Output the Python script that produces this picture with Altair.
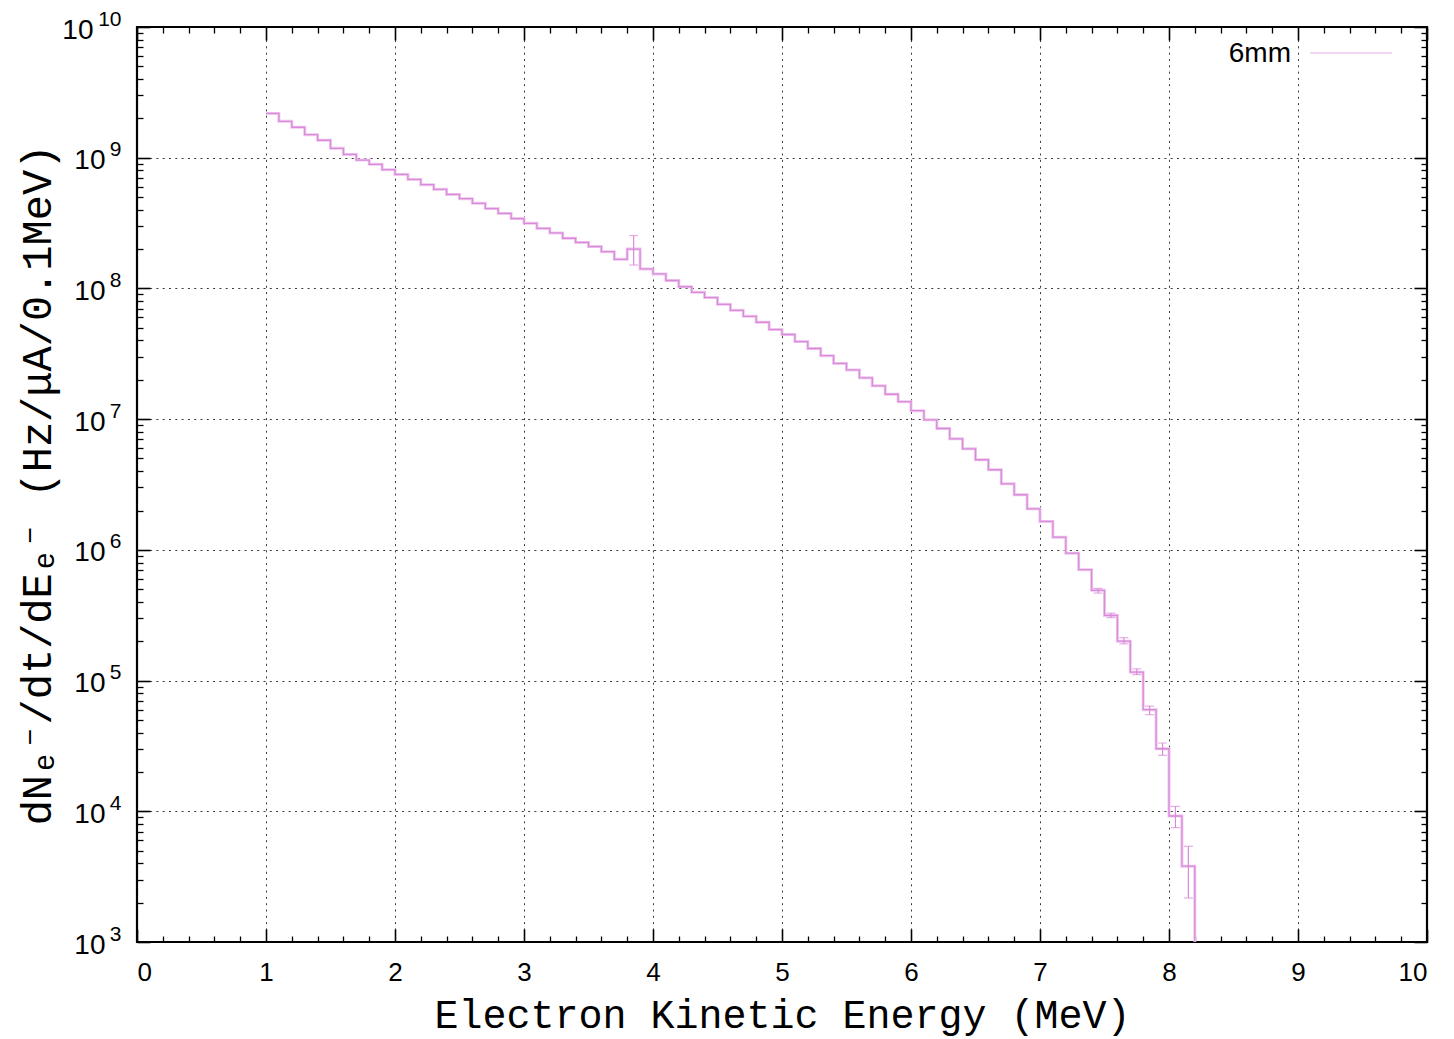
import altair as alt
import pandas as pd

# Electron spectrum, 0.1 MeV bins starting at 1.0 MeV (lower bin edges)
bin_lo = [round(1.0 + 0.1 * i, 1) for i in range(72)]
bin_hi_last = 8.2

# dN/dt/dE per bin (Hz/uA/0.1MeV)
rate = [
    2.18e9, 1.90e9, 1.71e9, 1.50e9, 1.36e9, 1.18e9, 1.06e9, 9.6e8, 8.9e8, 8.1e8,
    7.45e8, 6.82e8, 6.22e8, 5.73e8, 5.24e8, 4.86e8, 4.48e8, 4.08e8, 3.75e8, 3.42e8,
    3.15e8, 2.88e8, 2.66e8, 2.42e8, 2.25e8, 2.09e8, 1.91e8, 1.67e8, 2.00e8, 1.41e8,
    1.29e8, 1.15e8, 1.03e8, 9.34e7, 8.51e7, 7.56e7, 6.80e7, 6.12e7, 5.51e7, 4.84e7,
    4.44e7, 3.92e7, 3.47e7, 3.06e7, 2.67e7, 2.38e7, 2.07e7, 1.80e7, 1.55e7, 1.36e7,
    1.16e7, 9.88e6, 8.48e6, 7.07e6, 5.93e6, 4.89e6, 4.10e6, 3.20e6, 2.64e6, 2.06e6,
    1.65e6, 1.25e6, 9.44e5, 7.05e5, 4.90e5, 3.15e5, 2.00e5, 1.16e5, 5.99e4, 3.01e4,
    9.2e3, 3.8e3,
]

# Statistical error bars (bin centres, lower and upper limits)
err_center = [3.85, 7.45, 7.55, 7.65, 7.75, 7.85, 7.95, 8.05, 8.15]
err_lo = [1.51e8, 4.67e5, 3.03e5, 1.91e5, 1.11e5, 5.48e4, 2.68e4, 7.5e3, 2.17e3]
err_hi = [2.54e8, 5.07e5, 3.28e5, 2.13e5, 1.23e5, 6.38e4, 3.33e4, 1.09e4, 5.4e3]

series_name = "6mm"

# Axis tick positions
x_major = [0, 1, 2, 3, 4, 5, 6, 7, 8, 9, 10]
x_grid = [1, 2, 3, 4, 5, 6, 7, 8, 9]
x_minor = [round(0.2 * i, 1) for i in range(51) if i % 5 != 0]
y_major = [10.0 ** k for k in range(3, 11)]
y_minor = [m * 10.0 ** k for k in range(3, 10) for m in range(2, 10)]

Y_MIN, Y_MAX = 1e3, 1e10

DARK = "#d98ad9"
LIGHT = "#efc8ef"
SANS = "Liberation Sans, Arial, Helvetica, sans-serif"
MONO = "Liberation Mono, DejaVu Sans Mono, Courier New, monospace"

MAJOR, MINOR = 13, 6

hist = pd.DataFrame({
    "E": bin_lo + [bin_hi_last],
    "rate": rate + [Y_MIN],
})
errs = pd.DataFrame({"E": err_center, "lo": err_lo, "hi": err_hi})
key = pd.DataFrame({"series": [series_name]})

xs = alt.Scale(domain=[0, 10], nice=False, zero=False)
ys = alt.Scale(type="log", domain=[Y_MIN, Y_MAX], nice=False)

EXP = "round(log(datum.value)/LN10)"
TWO_DIGIT = "datum.value > 5e9"


def tick_axis(orient, values, size, width=1.3, **kw):
    """Inward-pointing ticks: axis shifted into the plot by its tick length."""
    opts = dict(orient=orient, values=values, tickSize=size, offset=-size,
                domain=False, grid=False, labels=False, title=None,
                tickColor="black", tickWidth=width)
    opts.update(kw)
    return alt.Axis(**opts)


GRID = dict(grid=True, gridColor="#3a3a3a", gridDash=[2, 4.3], gridWidth=1)

# Light underlay histogram; carries the grid and the exponent part of y labels
under = alt.Chart(hist).mark_line(
    interpolate="step-after", strokeWidth=3, color=LIGHT, clip=True
).encode(
    x=alt.X("E:Q", scale=xs, axis=alt.Axis(
        orient="bottom", values=x_grid, ticks=False, labels=False,
        domain=False, title=None, **GRID)),
    y=alt.Y("rate:Q", scale=ys, axis=alt.Axis(
        orient="left", values=y_major, ticks=False, tickSize=0, domain=False,
        title=None, labels=True, labelExpr=f"'' + {EXP}", labelFont=SANS,
        labelFontSize=21, labelColor="black", labelPadding=16,
        labelOffset=-8,
        gridOpacity={"condition": {"test": "datum.value < 5000 || datum.value > 5e9",
                                   "value": 0}, "value": 1},
        **GRID)),
)

# Main histogram with labelled axes (y labels: base "10", exponent drawn above)
main = alt.Chart(hist).mark_line(
    interpolate="step-after", strokeWidth=1.3, color=DARK, clip=True
).encode(
    x=alt.X("E:Q", scale=xs, axis=tick_axis(
        "bottom", x_major, MAJOR, width=1.6, labels=True,
        labelFont=SANS, labelFontSize=26, labelColor="black", labelPadding=17,
        title="Electron Kinetic Energy (MeV)", titleFont=MONO,
        titleFontSize=40, titleFontWeight="normal", titleColor="black",
        titlePadding=10,
    )),
    y=alt.Y("rate:Q", scale=ys, axis=tick_axis(
        "left", y_major, MAJOR, width=1.6, labels=True, labelExpr="'10'",
        labelFont=SANS, labelFontSize=28, labelColor="black",
        labelPadding={"condition": {"test": TWO_DIGIT, "value": 44}, "value": 32},
        labelOffset=3,
        title="dN\u2091\u207b/dt/dE\u2091\u207b  (Hz/\u03bcA/0.1MeV)",
        titleFont=MONO, titleFontSize=42, titleFontWeight="normal",
        titleColor="black", titlePadding=2,
    )),
)

# Error bar stems
stems = alt.Chart(errs).mark_rule(color=DARK, strokeWidth=1.2, clip=True).encode(
    x=alt.X("E:Q", scale=xs, axis=tick_axis("bottom", x_minor, MINOR)),
    y=alt.Y("lo:Q", scale=ys, axis=tick_axis("left", y_minor, MINOR)),
    y2="hi:Q",
)

# Error bar caps
caps_hi = alt.Chart(errs).mark_tick(
    orient="horizontal", size=9, thickness=1.2, color=DARK, clip=True
).encode(
    x=alt.X("E:Q", scale=xs, axis=tick_axis("top", x_major, MAJOR, width=1.6)),
    y=alt.Y("hi:Q", scale=ys, axis=tick_axis("right", y_major, MAJOR, width=1.6)),
)
caps_lo = alt.Chart(errs).mark_tick(
    orient="horizontal", size=9, thickness=1.2, color=DARK, clip=True
).encode(
    x=alt.X("E:Q", scale=xs, axis=tick_axis("top", x_minor, MINOR)),
    y=alt.Y("lo:Q", scale=ys, axis=tick_axis("right", y_minor, MINOR)),
)

# Key in the top-right corner: label followed by a line sample
key_text = alt.Chart(key).mark_text(
    align="right", baseline="middle", font=SANS, fontSize=28, color="black"
).encode(text="series:N", x=alt.value(1154), y=alt.value(27))
key_line = alt.Chart(key).mark_rule(color=LIGHT, strokeWidth=1.5).encode(
    x=alt.value(1173), x2=alt.value(1255), y=alt.value(26)
)

chart = alt.layer(
    under, main, stems, caps_hi, caps_lo, key_text, key_line
).resolve_axis(
    x="independent", y="independent"
).properties(
    width=1290,
    height=915,
    autosize=alt.AutoSizeParams(type="none"),
    padding={"left": 137, "top": 27, "right": 27, "bottom": 97},
    background="white",
).configure_view(stroke="black", strokeWidth=2.2)

chart.save("out.html", embed_options={"renderer": "svg", "actions": False})
